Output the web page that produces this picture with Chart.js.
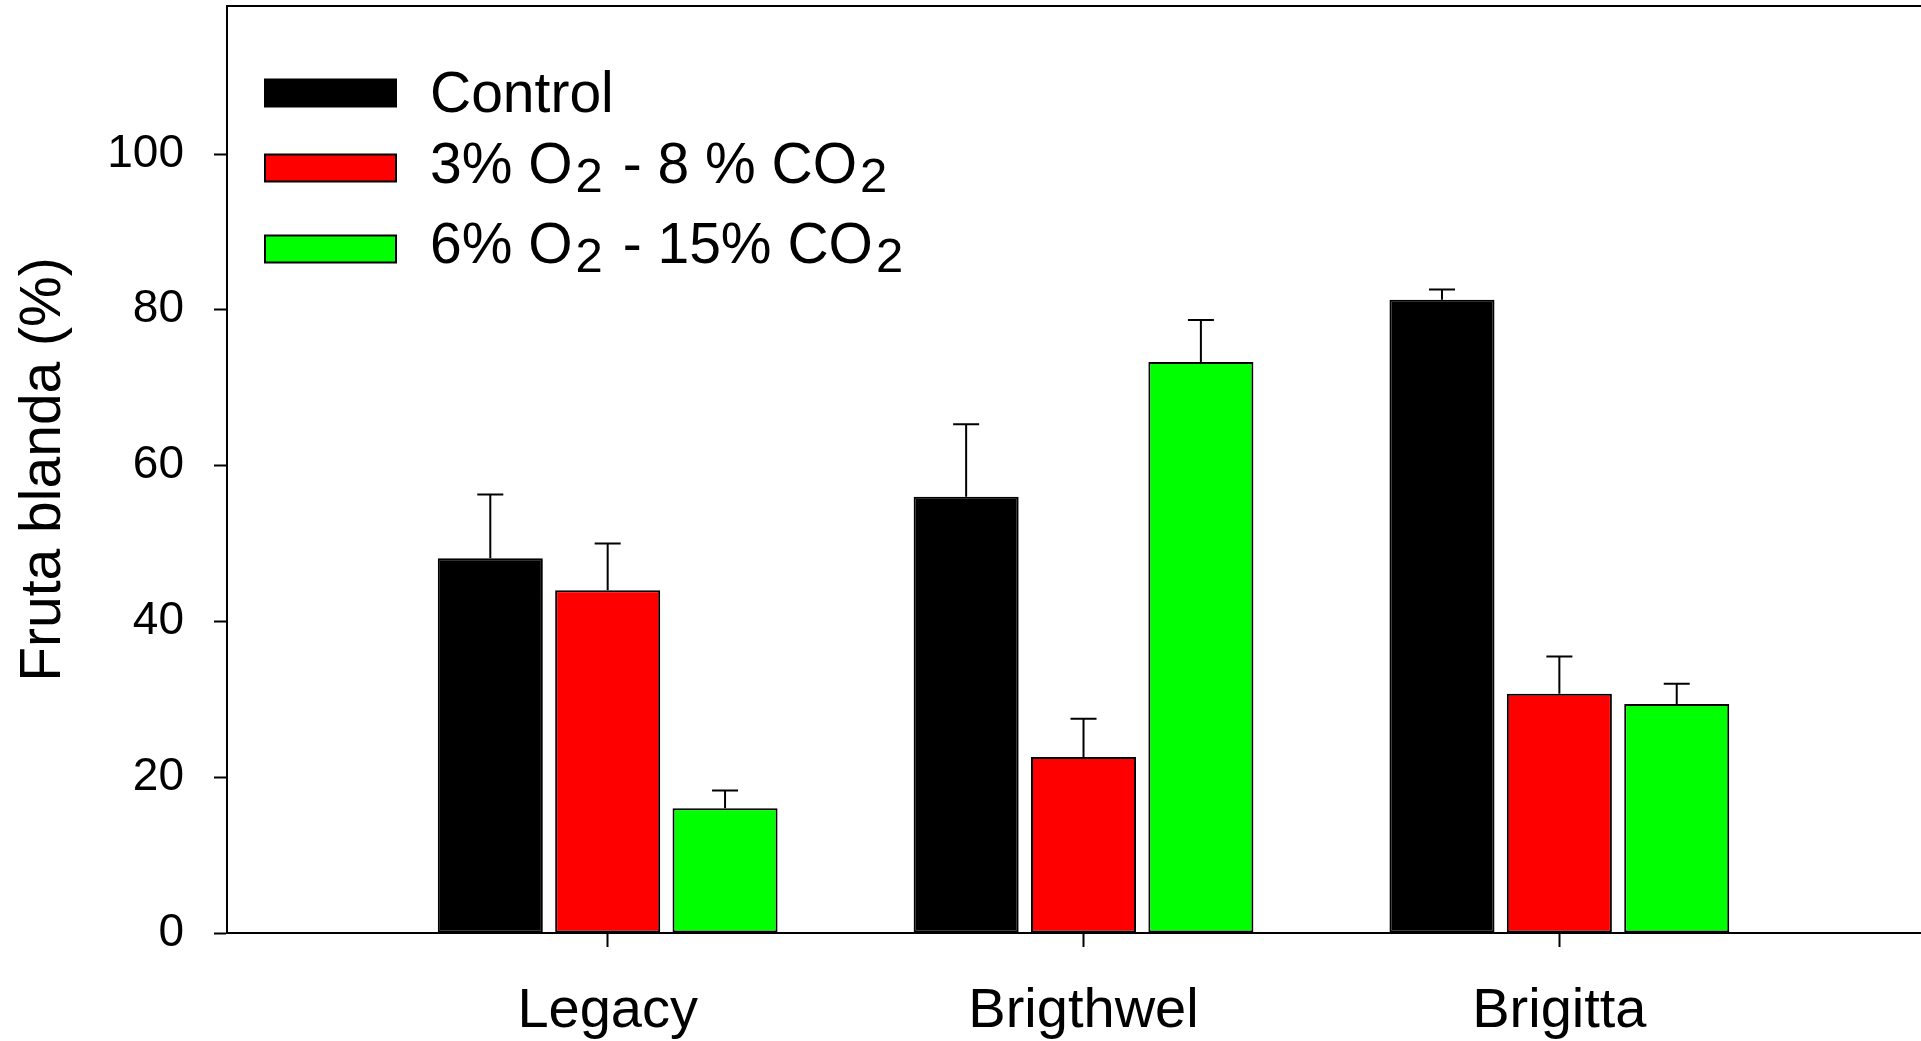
<!DOCTYPE html>
<html>
<head>
<meta charset="utf-8">
<script src="https://cdn.jsdelivr.net/npm/chart.js@4.4.0/dist/chart.umd.min.js"></script>
<style>
  html, body { margin: 0; padding: 0; background: #fff; overflow: hidden; }
  #wrap { position: relative; width: 1921px; height: 1041px; }
</style>
</head>
<body>
<div id="wrap"><canvas id="myChart"></canvas></div>
<script>
// data
var categories = ['Legacy', 'Brigthwel', 'Brigitta'];
var seriesNames = ['Control', '3% O₂ - 8 % CO₂', '6% O₂ - 15% CO₂'];
var controlValues = [48.1, 56.0, 81.3];
var controlErrors = [8.2, 9.3, 1.3];
var lowO2Values = [44.0, 22.6, 30.7];
var lowO2Errors = [6.0, 4.9, 4.8];
var highCO2Values = [16.0, 73.3, 29.4];
var highCO2Errors = [2.3, 5.4, 2.6];
var yTicks = [0, 20, 40, 60, 80, 100];
var yTitle = 'Fruta blanda (%)';

var barColors = ['#000000', '#ff0000', '#00ff00'];
var FONT = '"Liberation Sans", Arial, sans-serif';

function points(vals) {
  return vals.map(function(v, i) { return { x: i + 1, y: v }; });
}

var allValues = [controlValues, lowO2Values, highCO2Values];
var allErrors = [controlErrors, lowO2Errors, highCO2Errors];

var datasets = allValues.map(function(vals, k) {
  return {
    label: seriesNames[k],
    data: points(vals),
    errors: allErrors[k],
    backgroundColor: barColors[k],
    borderColor: '#000',
    borderWidth: 2,
    borderSkipped: false,
    categoryPercentage: 0.74,
    barPercentage: 0.895
  };
});

// error bars (upper only)
var errorBars = {
  id: 'errorBars',
  afterDatasetsDraw: function(chart) {
    var ctx = chart.ctx, y = chart.scales.y;
    ctx.save();
    ctx.strokeStyle = '#000';
    ctx.lineWidth = 2;
    chart.data.datasets.forEach(function(ds, i) {
      var meta = chart.getDatasetMeta(i);
      meta.data.forEach(function(bar, j) {
        var top = y.getPixelForValue(ds.data[j].y + ds.errors[j]);
        ctx.beginPath();
        ctx.moveTo(bar.x, bar.y);
        ctx.lineTo(bar.x, top);
        ctx.moveTo(bar.x - 13, top);
        ctx.lineTo(bar.x + 13, top);
        ctx.stroke();
      });
    });
    ctx.restore();
  }
};

// top frame line
var topFrame = {
  id: 'topFrame',
  afterDraw: function(chart) {
    var a = chart.chartArea, ctx = chart.ctx;
    ctx.save();
    ctx.strokeStyle = '#000';
    ctx.lineWidth = 2;
    ctx.beginPath();
    ctx.moveTo(a.left - 1, a.top);
    ctx.lineTo(a.right, a.top);
    ctx.stroke();
    ctx.restore();
  }
};

// legend with subscripts
var subLegend = {
  id: 'subLegend',
  afterDraw: function(chart) {
    var ctx = chart.ctx;
    var boxMid = [93, 168, 249];
    var textBase = [112, 183, 263];
    ctx.save();
    chart.data.datasets.forEach(function(ds, i) {
      var cy = boxMid[i];
      ctx.fillStyle = ds.backgroundColor;
      ctx.fillRect(265, cy - 13.5, 131, 27);
      ctx.strokeStyle = '#000';
      ctx.lineWidth = 2;
      ctx.strokeRect(265, cy - 13.5, 131, 27);
      var x = 430, base = textBase[i];
      var parts = ds.label.split('₂');
      ctx.fillStyle = '#000';
      ctx.textBaseline = 'alphabetic';
      parts.forEach(function(p, n) {
        ctx.font = '57px ' + FONT;
        ctx.fillText(p, x, base);
        x += ctx.measureText(p).width;
        if (n < parts.length - 1) {
          x += 3;
          ctx.font = '49px ' + FONT;
          ctx.fillText('2', x, base + 9);
          x += ctx.measureText('2').width + 4;
        }
      });
    });
    ctx.restore();
  }
};

var ctx = document.getElementById('myChart').getContext('2d');
var myChart = new Chart(ctx, {
  type: 'bar',
  data: { datasets: datasets },
  plugins: [errorBars, topFrame, subLegend],
  options: {
    responsive: false,
    animation: false,
    maintainAspectRatio: false,
    layout: { padding: { top: 6, right: 0, bottom: 0, left: 0 } },
    plugins: { legend: { display: false }, tooltip: { enabled: false } },
    scales: {
      x: {
        type: 'linear',
        offset: false,
        min: 0.2,
        max: 3.76,
        afterBuildTicks: function(axis) {
          axis.ticks = categories.map(function(c, i) { return { value: i + 1 }; });
        },
        afterFit: function(axis) {
          axis.height = 108;
          axis.paddingLeft = 0;
          axis.paddingRight = 0;
        },
        ticks: {
          callback: function(v) { return categories[v - 1]; },
          color: '#000',
          font: { family: FONT, size: 56 },
          padding: 31,
          maxRotation: 0,
          autoSkip: false
        },
        grid: { offset: false, drawOnChartArea: false, drawTicks: true, tickLength: 14, tickWidth: 2, tickColor: '#000' },
        border: { display: true, color: '#000', width: 2 }
      },
      y: {
        min: 0,
        max: 119,
        afterBuildTicks: function(axis) {
          axis.ticks = yTicks.map(function(v) { return { value: v }; });
        },
        afterFit: function(axis) {
          axis.width = 227;
          axis.paddingTop = 0;
          axis.paddingBottom = 0;
        },
        ticks: {
          color: '#000',
          font: { family: FONT, size: 46 },
          padding: 30
        },
        grid: { drawOnChartArea: false, drawTicks: true, tickLength: 13, tickWidth: 2, tickColor: '#000' },
        border: { display: true, color: '#000', width: 2 },
        title: {
          display: true,
          text: yTitle,
          color: '#000',
          font: { family: FONT, size: 57 },
          padding: { top: 10, bottom: 0 }
        }
      }
    }
  }
});
// size canvas to the window
myChart.resize(1921, 1041);
</script>
</body>
</html>
